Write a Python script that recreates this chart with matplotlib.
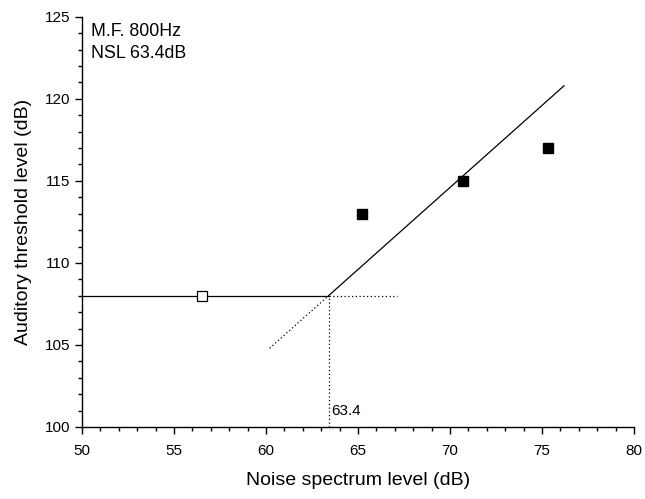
import matplotlib
matplotlib.use("Agg")
import matplotlib.pyplot as plt
from matplotlib.ticker import MultipleLocator

plt.rcParams['font.family'] = ['Liberation Sans', 'DejaVu Sans']

# data
open_x = [56.5]
open_y = [108.0]
filled_x = [65.2, 70.7, 75.3]
filled_y = [113.0, 115.0, 117.0]
nsl = 63.4
plateau = 108.0
slope = 1.0
fit_end_x = 76.2
dot_start_x = 60.2
dot_end_x = 67.1

fig = plt.figure(figsize=(6.45, 4.99), dpi=100)
ax = fig.add_axes([0.127, 0.1443, 0.856, 0.822])

# fitted broken line
ax.plot([50, nsl], [plateau, plateau], color='black', lw=0.9)
ax.plot([nsl, fit_end_x], [plateau, plateau + slope * (fit_end_x - nsl)], color='black', lw=0.9)
# dotted extensions
ax.plot([dot_start_x, nsl], [plateau + slope * (dot_start_x - nsl), plateau], color='black', lw=0.9, ls=(0, (1, 2)))
ax.plot([nsl, dot_end_x], [plateau, plateau], color='black', lw=0.9, ls=(0, (1, 2)))
ax.plot([nsl, nsl], [100, plateau], color='black', lw=0.9, ls=(0, (1, 2)))

ax.plot(open_x, open_y, 's', mfc='white', mec='black', ms=6.5, mew=0.9, zorder=5)
ax.plot(filled_x, filled_y, 's', color='black', ms=6.5, zorder=5)

ax.text(nsl + 0.15, 100.55, '63.4', fontsize=11, ha='left', va='bottom')
ax.text(50.5, 124.65, 'M.F. 800Hz\nNSL 63.4dB', fontsize=12.8, ha='left', va='top', linespacing=1.45)

ax.set_xlim(50, 80)
ax.set_ylim(100, 125)
ax.xaxis.set_major_locator(MultipleLocator(5))
ax.xaxis.set_minor_locator(MultipleLocator(1))
ax.yaxis.set_major_locator(MultipleLocator(5))
ax.yaxis.set_minor_locator(MultipleLocator(1))
for s in ['top', 'right']:
    ax.spines[s].set_visible(False)
for s in ['left', 'bottom']:
    ax.spines[s].set_linewidth(1.0)
ax.tick_params(which='major', direction='out', length=5, width=1.0, labelsize=11)
ax.tick_params(which='minor', direction='out', length=3, width=1.0)
ax.tick_params(axis='x', which='major', pad=7.5)

ax.set_xlabel('Noise spectrum level (dB)', fontsize=14, labelpad=10)
ax.set_ylabel('Auditory threshold level (dB)', fontsize=14, labelpad=9)

fig.savefig('out.png', dpi=100)
